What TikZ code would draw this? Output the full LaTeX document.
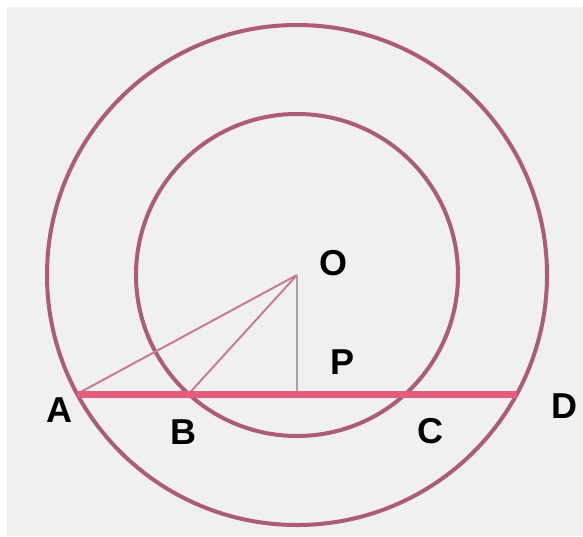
\documentclass[tikz,border=0pt]{standalone}
\usepackage{fontspec}
\setmainfont{Liberation Sans}
\usepackage{tikz}
\usetikzlibrary{positioning}

\definecolor{circlecol}{RGB}{172,92,120}
\definecolor{chordcol}{RGB}{228,92,128}
\definecolor{radiuscol}{RGB}{205,120,150}
\definecolor{footcol}{RGB}{170,160,160}
\definecolor{bgcol}{RGB}{240,240,240}

\begin{document}
\begin{tikzpicture}[x=1pt, y=-1pt]
      % Define styles for lines and labels
      \tikzset{
        circleline/.style={draw=circlecol, line width=4pt},
        chordline/.style={draw=chordcol, line width=7pt},
        radiusline/.style={draw=radiuscol, line width=2pt},
        footline/.style={draw=footcol, line width=1.5pt},
        ptlabel/.style={font=\fontsize{36}{38}\selectfont\bfseries, inner sep=0pt}
      }
      \useasboundingbox (0,0) rectangle (583,536);
      \fill[bgcol] (7,7) rectangle (583,536);

      % Centre and points on the chord
      \coordinate (O) at (297,275);
      \coordinate (A) at (77,394);
      \coordinate (B) at (188.6,394);
      \coordinate (P) at (297,394);
      \coordinate (C) at (405.4,394);
      \coordinate (D) at (517,394);

      % Draw the two concentric circles
      \draw[circleline] (O) circle[radius=250];
      \draw[circleline] (O) circle[radius=161];

      % Draw the chord and the segments from the centre
      \draw[radiusline] (O) -- (A);
      \draw[radiusline] (O) -- (B);
      \draw[footline] (O) -- (P);
      \draw[chordline] (A) -- (D);

      % Add the point labels
      \node[ptlabel] (labO) at (333,263) {O};
      \node[ptlabel] (labP) at (343,362) {P};
      \node[ptlabel] (labA) at (59,410) {A};
      \node[ptlabel] (labB) at (183,432) {B};
      \node[ptlabel] (labC) at (430,431) {C};
      \node[ptlabel] (labD) at (564,406) {D};
    \end{tikzpicture}
\end{document}
